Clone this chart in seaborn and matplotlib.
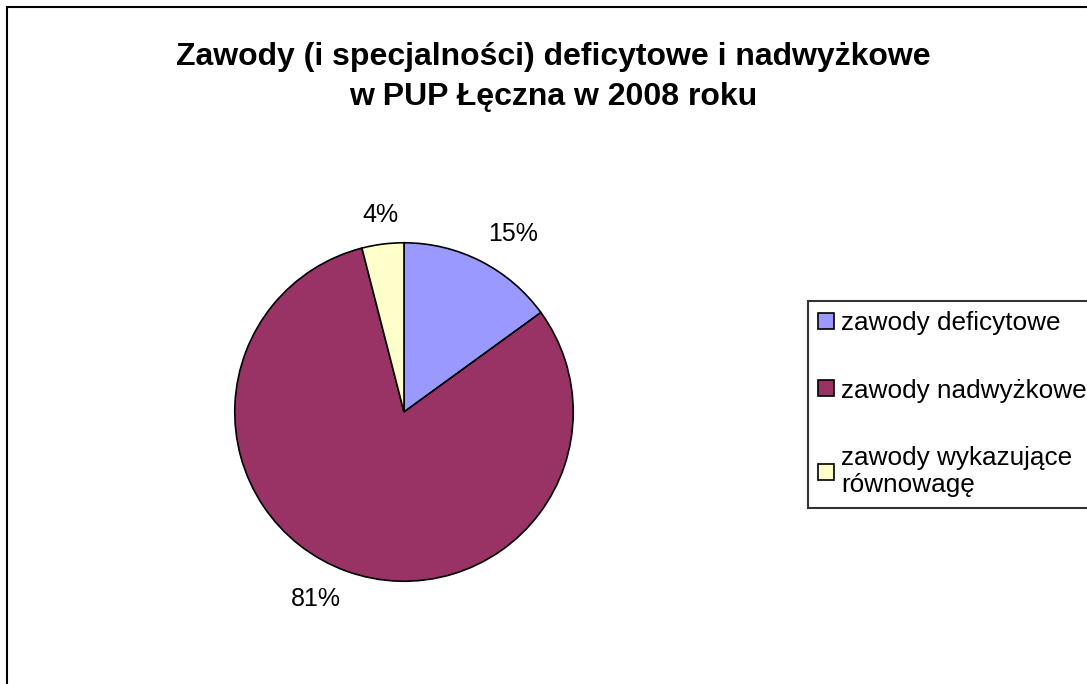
import numpy as np
import seaborn as sns
import matplotlib.pyplot as plt
from matplotlib.patches import Rectangle

# --- data ---
categories = ["zawody deficytowe", "zawody nadwyżkowe", "zawody wykazujące\nrównowagę"]
shares = [15, 81, 4]
colors = ["#9999FF", "#993366", "#FFFFCC"]
title_lines = ["Zawody (i specjalności) deficytowe i nadwyżkowe", "w PUP Łęczna w 2008 roku"]

sns.set_theme(style="white")
plt.rcParams["font.family"] = ["Liberation Sans", "DejaVu Sans"]
plt.rcParams["text.color"] = "black"

W, H = 1087, 684
fig = plt.figure(figsize=(W / 100, H / 100), dpi=100)
fig.patch.set_facecolor("white")

# outer chart frame (left and top edges visible, rest runs off the image)
fig.add_artist(Rectangle((7 / W, -0.1), 2, 1.1 - 7 / H, transform=fig.transFigure,
                         fill=False, edgecolor="black", linewidth=1.5))

# pie axes: centre (404, 412) px, radius ~169 px
cx, cy, side = 404, 412, 440
ax = fig.add_axes([(cx - side / 2) / W, (H - cy - side / 2) / H, side / W, side / H])
wedges, _ = ax.pie(shares, colors=colors, startangle=90, counterclock=False,
                   wedgeprops=dict(edgecolor="black", linewidth=1.2))
ax.set_xlim(-1.3, 1.3)
ax.set_ylim(-1.3, 1.3)
ax.set_aspect("equal")
ax.axis("off")

# percentage labels just outside each slice
for w, v in zip(wedges, shares):
    ang = np.deg2rad((w.theta1 + w.theta2) / 2)
    x, y = 1.1 * np.cos(ang), 1.1 * np.sin(ang)
    ha = "left" if x > 0.1 else ("right" if x < -0.1 else "center")
    va = "bottom" if y > 0 else "top"
    if abs(x) <= 0.1 or (x < 0 and y > 0):
        ha = "center"
    ax.text(x, y, f"{v}%", ha=ha, va=va, fontsize=18, color="black")

fig.text(553 / W, 1 - 57 / H, title_lines[0], ha="center", va="center",
         fontsize=23, fontweight="bold", color="black")
fig.text(553 / W, 1 - 97 / H, title_lines[1], ha="center", va="center",
         fontsize=23, fontweight="bold", color="black")

leg = fig.legend(wedges, categories, loc="upper left",
                 bbox_to_anchor=(808 / W, 1 - 301 / H), fontsize=18.8,
                 frameon=True, fancybox=False, borderaxespad=0,
                 borderpad=0.4, handlelength=0.58, handleheight=0.58,
                 handletextpad=0.3, labelspacing=1.65)
leg.get_frame().set_edgecolor("black")
leg.get_frame().set_linewidth(1.5)
for t in leg.get_texts():
    t.set_color("black")

fig.savefig("out.png", dpi=100)
